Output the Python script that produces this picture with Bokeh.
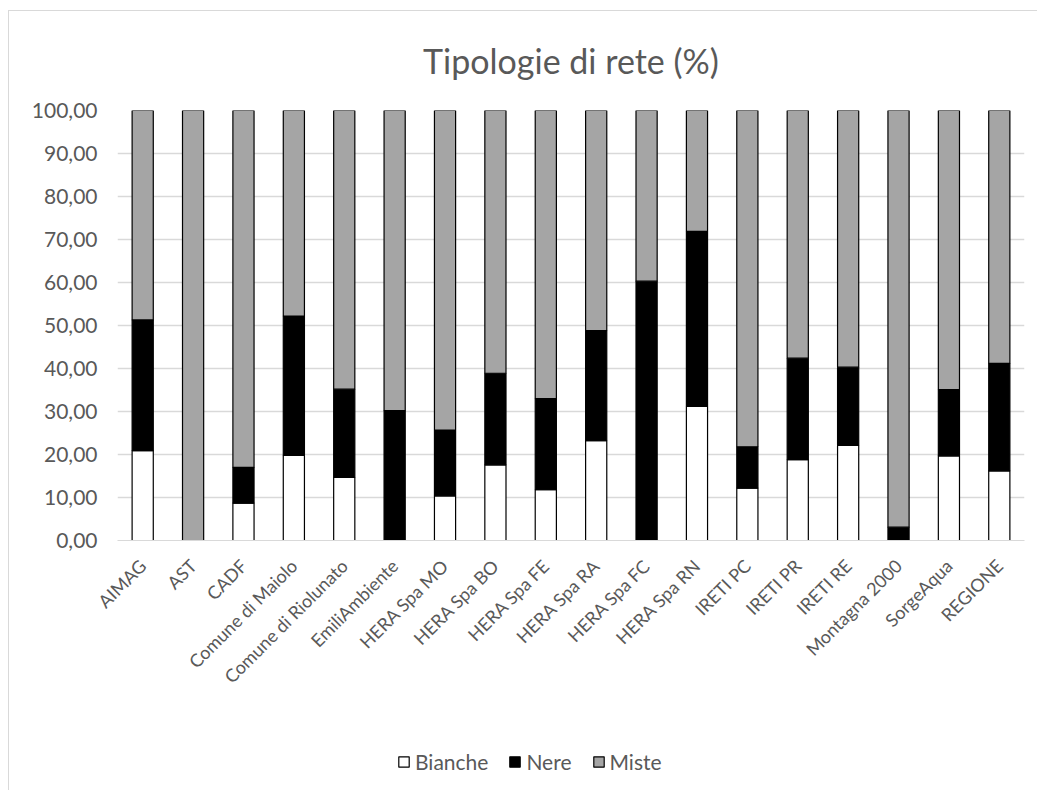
import math
from bokeh.plotting import figure
from bokeh.layouts import column
from bokeh.models import FactorRange, Range1d, FixedTicker, Legend, LegendItem, ColumnDataSource
from bokeh.embed import file_html
from bokeh.resources import INLINE

categories = ["AIMAG", "AST", "CADF", "Comune di Maiolo", "Comune di Riolunato",
              "EmiliAmbiente", "HERA Spa MO", "HERA Spa BO", "HERA Spa FE",
              "HERA Spa RA", "HERA Spa FC", "HERA Spa RN", "IRETI PC", "IRETI PR",
              "IRETI RE", "Montagna 2000", "SorgeAqua", "REGIONE"]
bianche = [20.9, 0.0, 8.7, 19.8, 14.7, 0.0, 10.4, 17.6, 11.8, 23.2, 0.0, 31.2, 12.2, 18.8, 22.1, 0.0, 19.7, 16.2]
nere = [30.4, 0.0, 8.3, 32.4, 20.5, 30.2, 15.3, 21.3, 21.2, 25.6, 60.3, 40.7, 9.6, 23.6, 18.2, 3.1, 15.4, 25.0]
miste = [round(100 - b - n, 2) for b, n in zip(bianche, nere)]
series = ["Bianche", "Nere", "Miste"]
y_ticks = [0, 10, 20, 30, 40, 50, 60, 70, 80, 90, 100]
y_tick_labels = ["0,00", "10,00", "20,00", "30,00", "40,00", "50,00", "60,00", "70,00", "80,00", "90,00", "100,00"]

colors = ["#FFFFFF", "#000000", "#A5A5A5"]
FONT = "Lato"
TXT = "#595959"

src = ColumnDataSource(dict(cat=categories, Bianche=bianche, Nere=nere, Miste=miste))

p = figure(width=1028, height=689, x_range=FactorRange(*categories, range_padding=0),
           y_range=Range1d(0, 100), output_backend="svg", toolbar_location=None,
           min_border_left=108, min_border_right=13, min_border_top=99, min_border_bottom=160,
           title="Tipologie di rete (%)")

p.vbar_stack(series, x="cat", width=0.42, source=src, fill_color=colors,
             line_color="#000000", line_width=1.2)

p.title.align = "center"
p.title.vertical_align = "top"
p.title.text_font = FONT
p.title.text_font_size = "34px"
p.title.text_font_style = "normal"
p.title.text_color = TXT
p.title.standoff = 55

p.outline_line_color = None
p.xgrid.grid_line_color = None
p.ygrid.grid_line_color = "#D9D9D9"
p.ygrid.grid_line_width = 1.3
p.yaxis.ticker = FixedTicker(ticks=y_ticks)
p.yaxis.major_label_overrides = {t: l for t, l in zip(y_ticks, y_tick_labels)}
for ax in (p.xaxis, p.yaxis):
    ax.major_tick_line_color = None
    ax.minor_tick_line_color = None
    ax.major_label_text_font = FONT
    ax.major_label_text_color = TXT
p.yaxis.axis_line_color = None
p.xaxis.axis_line_color = "#D9D9D9"
p.yaxis.major_label_text_font_size = "21px"
p.yaxis.major_label_standoff = 14
p.xaxis.major_label_text_font_size = "18px"
p.xaxis.major_label_orientation = math.pi / 4
p.xaxis.major_label_standoff = 16

# legend strip below the chart (legend icons only; dummy points lie outside the view)
q = figure(width=1028, height=90, output_backend="svg", toolbar_location=None,
           x_axis_type=None, y_axis_type=None, min_border=0,
           x_range=Range1d(0, 1), y_range=Range1d(0, 1))
q.outline_line_color = None
dummy = [q.vbar(x=[-50], top=[-50], bottom=[-51], width=0.1, fill_color=c, line_color="#000000", line_width=1.2)
         for c in colors]
legend = Legend(items=[LegendItem(label=s, renderers=[r]) for s, r in zip(series, dummy)],
                orientation="horizontal", location=(280, 16))
legend.label_text_font = FONT
legend.label_text_font_size = "21px"
legend.label_text_color = TXT
legend.glyph_width = 13
legend.glyph_height = 13
legend.label_height = 13
legend.label_standoff = 5
legend.spacing = 20
legend.padding = 0
legend.margin = 0
legend.border_line_color = None
legend.background_fill_alpha = 0
q.add_layout(legend, "center")

layout = column(p, q, spacing=0)
layout.styles = {"margin-left": "8px", "margin-top": "10px",
                 "border-left": "1px solid #D9D9D9", "border-top": "1px solid #D9D9D9"}

open("out.html", "w").write(file_html(layout, INLINE))
